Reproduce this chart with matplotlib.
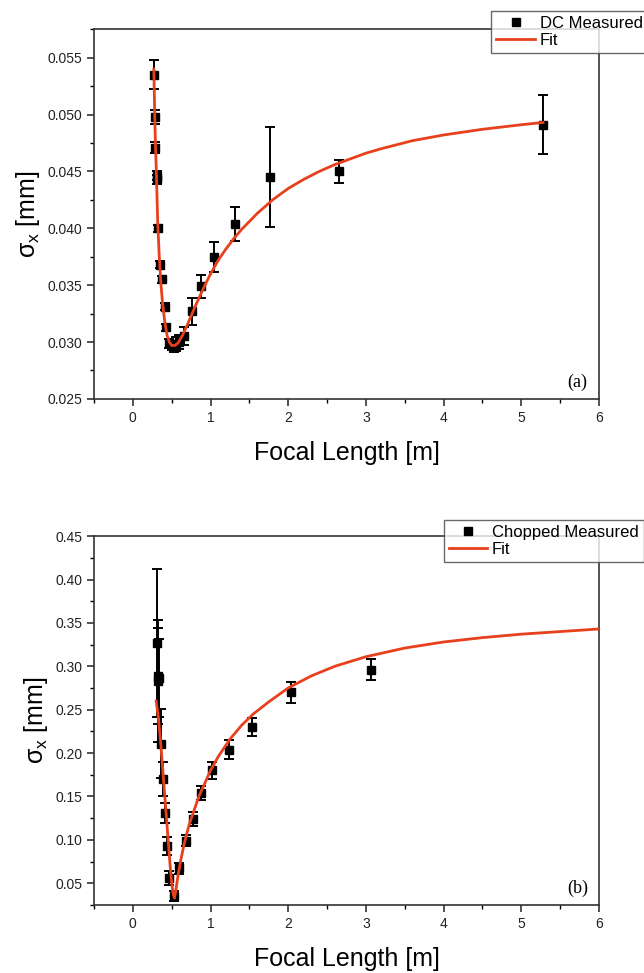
import numpy as np
import matplotlib
matplotlib.use("Agg")
import matplotlib.pyplot as plt
from matplotlib.ticker import MultipleLocator, FormatStrFormatter
from matplotlib.lines import Line2D

plt.rcParams['font.family'] = ['Liberation Sans', 'DejaVu Sans']
plt.rcParams['mathtext.fontset'] = 'custom'
plt.rcParams['mathtext.rm'] = 'Liberation Sans'
plt.rcParams['mathtext.it'] = 'Liberation Sans'

# (a) DC beam
dc_x = [0.27, 0.28, 0.29, 0.31, 0.31, 0.32, 0.35, 0.38, 0.41, 0.43, 0.46, 0.50,
        0.53, 0.56, 0.59, 0.66, 0.76, 0.88, 1.05, 1.32, 1.77, 2.65, 5.28]
dc_y = [0.0535, 0.0498, 0.0471, 0.0446, 0.0443, 0.0400, 0.0368, 0.0355, 0.0331,
        0.0313, 0.0299, 0.0297, 0.0296, 0.0298, 0.0300, 0.0305, 0.0327, 0.0349,
        0.0375, 0.0404, 0.0445, 0.0450, 0.0491]
dc_err = [0.0013, 0.0006, 0.0005, 0.0004, 0.0004, 0.0003, 0.0003, 0.0003, 0.0003,
          0.0003, 0.0004, 0.0004, 0.0005, 0.0006, 0.0006, 0.0008, 0.0012, 0.0010,
          0.0013, 0.0015, 0.0044, 0.0010, 0.0026]
dc_fit_x = [0.27, 0.28, 0.29, 0.30, 0.31, 0.32, 0.34, 0.36, 0.38, 0.41, 0.44, 0.47,
            0.50, 0.54, 0.58, 0.64, 0.70, 0.80, 0.90, 1.0, 1.1, 1.2, 1.3, 1.4, 1.5,
            1.6, 1.7, 1.8, 1.9, 2.0, 2.2, 2.4, 2.6, 2.8, 3.0, 3.2, 3.6, 4.0, 4.5,
            5.0, 5.28]
dc_fit_y = [0.0540, 0.0505, 0.0475, 0.0455, 0.0430, 0.0405, 0.0375, 0.0352, 0.0336,
            0.0318, 0.0306, 0.0300, 0.0297, 0.0297, 0.0299, 0.0306, 0.0315, 0.0331,
            0.0346, 0.0360, 0.0372, 0.0382, 0.0391, 0.0399, 0.0406, 0.0413, 0.0419,
            0.0425, 0.0430, 0.0435, 0.0443, 0.0450, 0.0456, 0.0461, 0.0466, 0.0470,
            0.0477, 0.0482, 0.0487, 0.0491, 0.0493]

# (b) chopped beam
ch_x = [0.31, 0.32, 0.33, 0.34, 0.36, 0.39, 0.41, 0.44, 0.47, 0.53, 0.60, 0.68,
        0.77, 0.88, 1.02, 1.24, 1.53, 2.03, 3.07]
ch_y = [0.327, 0.283, 0.289, 0.286, 0.211, 0.170, 0.131, 0.093, 0.056, 0.035, 0.067,
        0.099, 0.124, 0.154, 0.180, 0.204, 0.230, 0.270, 0.296]
ch_err = [0.085, 0.070, 0.055, 0.045, 0.040, 0.020, 0.012, 0.010, 0.008, 0.006,
          0.006, 0.006, 0.008, 0.008, 0.010, 0.011, 0.010, 0.012, 0.012]
ch_fit_x = [0.30, 0.33, 0.36, 0.39, 0.42, 0.45, 0.48, 0.50, 0.52, 0.535, 0.55, 0.58,
            0.62, 0.66, 0.72, 0.78, 0.85, 0.92, 1.0, 1.1, 1.25, 1.4, 1.55, 1.75,
            2.0, 2.3, 2.6, 3.0, 3.5, 4.0, 4.5, 5.0, 5.5, 6.0]
ch_fit_y = [0.26, 0.24, 0.21, 0.175, 0.14, 0.105, 0.07, 0.050, 0.037, 0.033, 0.040,
            0.058, 0.078, 0.095, 0.116, 0.132, 0.150, 0.164, 0.180, 0.196, 0.216,
            0.232, 0.245, 0.259, 0.275, 0.289, 0.300, 0.311, 0.321, 0.328, 0.333,
            0.337, 0.340, 0.343]

FIT_COLOR = '#e8401c'

fig = plt.figure(figsize=(6.44, 9.73), dpi=100)
ax1 = fig.add_axes([0.146, 0.590, 0.784, 0.380])
ax2 = fig.add_axes([0.146, 0.070, 0.784, 0.379])


def draw_panel(ax, x, y, err, fx, fy, label, ylim, ymaj, ymin, tag, leg_pos):
    ax.errorbar(x, y, yerr=err, fmt='s', color='black', ms=6, capsize=3.5,
                elinewidth=1.4, capthick=1.4, zorder=2)
    ax.plot(fx, fy, color=FIT_COLOR, lw=2, zorder=3)
    ax.set_xlim(-0.5, 6)
    ax.set_ylim(*ylim)
    ax.xaxis.set_major_locator(MultipleLocator(1))
    ax.xaxis.set_minor_locator(MultipleLocator(0.5))
    ax.yaxis.set_major_locator(MultipleLocator(ymaj))
    ax.yaxis.set_minor_locator(MultipleLocator(ymin))
    ax.tick_params(which='major', direction='out', length=5, width=1.1,
                   labelsize=10, colors='#222222')
    ax.tick_params(which='minor', direction='out', length=3, width=1.0)
    for s in ax.spines.values():
        s.set_linewidth(1.2)
        s.set_color('#333333')
    ax.set_xlabel('Focal Length [m]', fontsize=18, labelpad=12)
    ax.set_ylabel(r'$\sigma_{\mathrm{x}}$ [mm]', fontsize=18, labelpad=4)
    ax.text(0.958, 0.045, tag, transform=ax.transAxes, ha='center', va='center',
            fontsize=13, family='Liberation Serif')
    handles = [Line2D([], [], marker='s', ls='none', color='black', ms=6),
               Line2D([], [], color=FIT_COLOR, lw=2)]
    leg = fig.legend(handles, [label, 'Fit'], loc='upper left', bbox_to_anchor=leg_pos,
                     bbox_transform=fig.transFigure, fontsize=12, frameon=True,
                     fancybox=False, edgecolor='#444444', handlelength=2.3,
                     handletextpad=0.3, borderpad=0.3, labelspacing=0.15,
                     borderaxespad=0)
    leg.get_frame().set_linewidth(1.0)


draw_panel(ax1, dc_x, dc_y, dc_err, dc_fit_x, dc_fit_y, 'DC Measured',
           (0.025, 0.0575), 0.005, 0.0025, '(a)', (0.763, 0.989))
draw_panel(ax2, ch_x, ch_y, ch_err, ch_fit_x, ch_fit_y, 'Chopped Measured',
           (0.025, 0.45), 0.05, 0.025, '(b)', (0.689, 0.466))
ax1.yaxis.set_major_formatter(FormatStrFormatter('%.3f'))
ax2.yaxis.set_major_formatter(FormatStrFormatter('%.2f'))

fig.savefig('out.png', dpi=100)
